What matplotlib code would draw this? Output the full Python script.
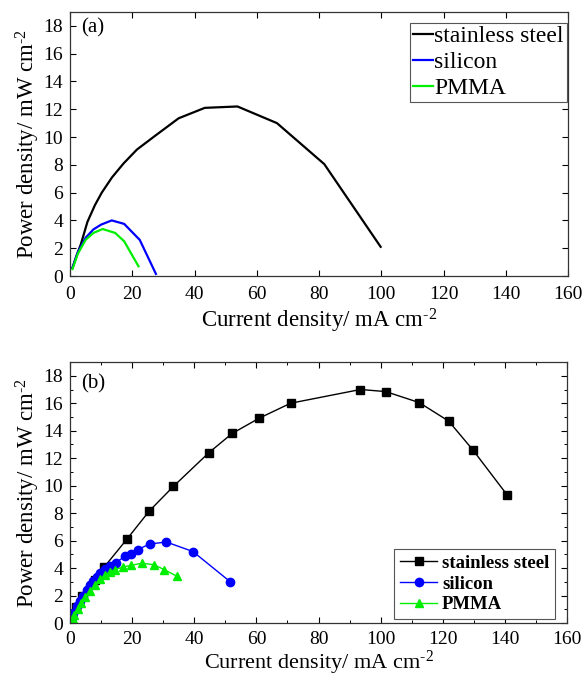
import matplotlib
matplotlib.use("Agg")
import matplotlib.pyplot as plt
from matplotlib.ticker import MultipleLocator

plt.rcParams['font.family'] = ['Liberation Serif', 'DejaVu Serif']
plt.rcParams['mathtext.fontset'] = 'custom'
plt.rcParams['mathtext.rm'] = 'Liberation Serif'
plt.rcParams['mathtext.it'] = 'Liberation Serif:italic'
plt.rcParams['mathtext.bf'] = 'Liberation Serif:bold'

# ---- Panel (a) data ----
a_ss_x = [0.8, 2, 3.5, 5.6, 8, 10.2, 13.5, 17.2, 21.5, 27.4, 34.9, 43.3, 53.8, 66.5, 81.7, 99.8]
a_ss_y = [0.6, 1.4, 2.3, 3.9, 5.1, 6.0, 7.1, 8.1, 9.1, 10.1, 11.35, 12.1, 12.2, 11.0, 8.05, 2.1]
a_si_x = [0.8, 2.5, 5, 7.5, 10, 13.4, 17.4, 22.4, 27.6]
a_si_y = [0.6, 1.7, 2.75, 3.35, 3.7, 4.0, 3.75, 2.6, 0.15]
a_pm_x = [0.8, 2.5, 5, 7.5, 10.5, 14.5, 17.4, 22.0]
a_pm_y = [0.5, 1.6, 2.6, 3.1, 3.38, 3.1, 2.5, 0.7]

# ---- Panel (b) data ----
b_ss_x = [0.5, 2, 4, 8.1, 11.1, 18.3, 25.5, 33.3, 44.7, 52.2, 60.8, 71.0,
          93.5, 101.6, 112.4, 121.9, 129.7, 140.8]
b_ss_y = [0.6, 1.2, 2.0, 3.1, 4.1, 6.1, 8.15, 9.95, 12.4, 13.8, 14.9, 16.0,
          17.0, 16.85, 16.05, 14.7, 12.6, 9.3]
b_si_x = [0.5, 1.1, 2.2, 3.2, 4.3, 5.4, 6.5, 7.5, 8.6, 9.7, 11.2, 12.9, 14.8,
          17.6, 19.5, 21.9, 25.6, 31.0, 39.6, 51.6]
b_si_y = [0.4, 0.75, 1.25, 1.6, 2.0, 2.4, 2.75, 3.05, 3.35, 3.65, 3.95, 4.15, 4.4,
          4.85, 5.05, 5.35, 5.75, 5.9, 5.2, 3.0]
b_pm_x = [0.8, 1.4, 2.5, 3.5, 4.8, 6.5, 8.1, 9.7, 11.3, 12.9, 14.5, 17.2, 19.6,
          23.1, 26.9, 30.3, 34.4]
b_pm_y = [0.3, 0.58, 0.99, 1.43, 1.86, 2.34, 2.75, 3.17, 3.48, 3.72, 3.89, 4.08, 4.2,
          4.35, 4.25, 3.89, 3.41]

labels = ['stainless steel', 'silicon', 'PMMA']
colors = ['black', '#0000ff', '#00ee00']

xlabel = r'Current density/ mA cm$^{\text{-}2}$'
ylabel = r'Power density/ mW cm$^{\text{-}2}$'

fig = plt.figure(figsize=(5.84, 6.8), dpi=100)
axa = fig.add_axes([0.1199, 0.5941, 0.8527, 0.3883])
axb = fig.add_axes([0.1199, 0.0838, 0.8510, 0.3838])

# Panel (a)
axa.plot(a_ss_x, a_ss_y, color=colors[0], lw=1.6, label=labels[0])
axa.plot(a_si_x, a_si_y, color=colors[1], lw=1.6, label=labels[1])
axa.plot(a_pm_x, a_pm_y, color=colors[2], lw=1.6, label=labels[2])
leg = axa.legend(loc='upper right', bbox_to_anchor=(0.997, 0.96), fontsize=17,
                 handlelength=0.85, handletextpad=0.05, borderpad=0.12,
                 labelspacing=0.2, fancybox=False, framealpha=1,
                 edgecolor='#555555', borderaxespad=0)
leg.get_frame().set_linewidth(0.8)
axa.text(0.022, 0.975, '(a)', transform=axa.transAxes, fontsize=15,
         va='top', ha='left')

# Panel (b)
axb.plot(b_ss_x, b_ss_y, color=colors[0], lw=1.0, marker='s', ms=5.5, label=labels[0])
axb.plot(b_si_x, b_si_y, color=colors[1], lw=1.0, marker='o', ms=6, label=labels[1])
axb.plot(b_pm_x, b_pm_y, color=colors[2], lw=1.0, marker='^', ms=6.3, label=labels[2])
legb = axb.legend(loc='lower right', bbox_to_anchor=(0.976, 0.015),
                  prop={'size': 13.5, 'weight': 'bold'},
                  handlelength=2.0, handletextpad=0.25, borderpad=0.3,
                  labelspacing=0.2, fancybox=False, framealpha=1,
                  edgecolor='#555555', borderaxespad=0)
legb.get_frame().set_linewidth(0.8)
axb.text(0.022, 0.955, '(b)', transform=axb.transAxes, fontsize=15,
         va='top', ha='left')

for ax in (axa, axb):
    ax.set_xlim(0, 160)
    ax.set_ylim(0, 19)
    ax.xaxis.set_major_locator(MultipleLocator(20))
    ax.yaxis.set_major_locator(MultipleLocator(2))
    ax.tick_params(which='both', direction='in', top=True, right=True,
                   labelsize=14)
    ax.tick_params(axis='y', pad=5)
    ax.tick_params(which='major', length=4, width=0.8)
    ax.set_ylabel(ylabel, fontsize=16.5, labelpad=1)
    for s in ax.spines.values():
        s.set_linewidth(0.9)
        s.set_color('#333333')

axa.tick_params(axis='x', pad=7)
axa.set_xlabel(xlabel, fontsize=16.5, labelpad=3)
axb.tick_params(axis='x', pad=6)
axb.set_xlabel(xlabel, fontsize=16, labelpad=0)

axb.xaxis.set_minor_locator(MultipleLocator(10))
axb.yaxis.set_minor_locator(MultipleLocator(1))
axb.tick_params(which='minor', length=2.5, width=0.7)

fig.savefig('out.png', dpi=100)
